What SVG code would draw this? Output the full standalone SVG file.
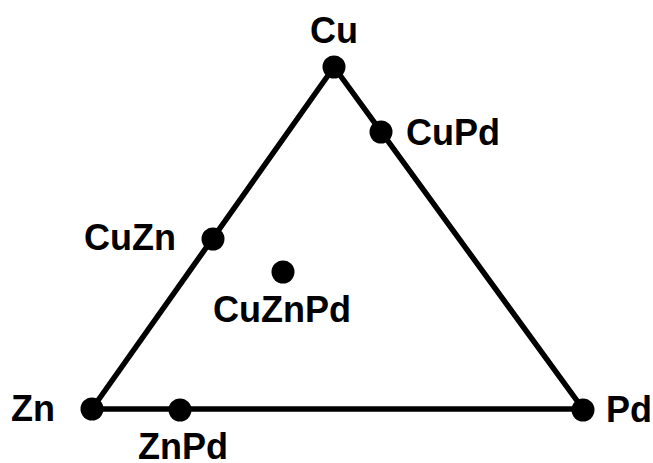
<svg xmlns="http://www.w3.org/2000/svg" width="653" height="463" viewBox="0 0 653 463">
<style>
.lbl{font-family:"Liberation Sans",Arial,sans-serif;font-weight:bold;font-size:36px;fill:#000}
.dot{fill:#000}
</style>
<rect width="653" height="463" fill="#fff"/>
<g id="connectors">
<polygon points="334,67 92,409 583,409" fill="none" stroke="#000" stroke-width="5.5" stroke-linejoin="miter"/>
</g>
<g id="Cu"><ellipse class="dot" cx="334" cy="67" rx="11.5" ry="11.5"/><text class="lbl" x="334" y="43" text-anchor="middle">Cu</text></g>
<g id="CuPd"><ellipse class="dot" cx="381" cy="132" rx="11.5" ry="11.5"/><text class="lbl" x="406" y="145">CuPd</text></g>
<g id="CuZn"><ellipse class="dot" cx="213" cy="239" rx="11.5" ry="11.5"/><text class="lbl" x="84" y="250">CuZn</text></g>
<g id="CuZnPd"><ellipse class="dot" cx="283" cy="272" rx="11.5" ry="11.5"/><text class="lbl" x="282" y="322" text-anchor="middle">CuZnPd</text></g>
<g id="Zn"><ellipse class="dot" cx="92" cy="409" rx="11.5" ry="11.5"/><text class="lbl" x="11" y="421">Zn</text></g>
<g id="ZnPd"><ellipse class="dot" cx="180" cy="410" rx="11.5" ry="11.5"/><text class="lbl" x="183" y="459" text-anchor="middle">ZnPd</text></g>
<g id="Pd"><ellipse class="dot" cx="583" cy="410" rx="11.5" ry="11.5"/><text class="lbl" x="606" y="422">Pd</text></g>
</svg>
